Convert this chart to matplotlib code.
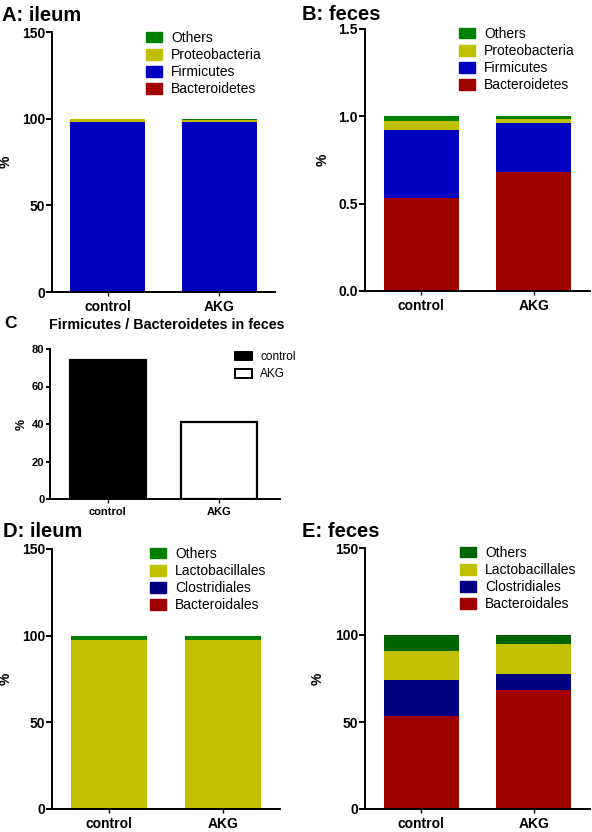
import matplotlib.pyplot as plt
from matplotlib.patches import Patch

plt.rcParams['font.family'] = ['Liberation Sans', 'DejaVu Sans']

groups = ['control', 'AKG']

# A: ileum, phylum (%)
phyla = ['Bacteroidetes', 'Firmicutes', 'Proteobacteria', 'Others']
ileum_phylum = {
    'Bacteroidetes': [0.2, 0.1],
    'Firmicutes': [97.8, 98.2],
    'Proteobacteria': [1.7, 0.7],
    'Others': [0.3, 1.0],
}
# B: feces, phylum (fraction)
feces_phylum = {
    'Bacteroidetes': [0.533, 0.682],
    'Firmicutes': [0.390, 0.281],
    'Proteobacteria': [0.053, 0.019],
    'Others': [0.024, 0.018],
}
# C: Firmicutes / Bacteroidetes ratio
fb_ratio = [74.0, 41.0]
# D: ileum, order (%)
orders = ['Bacteroidales', 'Clostridiales', 'Lactobacillales', 'Others']
ileum_order = {
    'Bacteroidales': [0.2, 0.2],
    'Clostridiales': [0.4, 0.4],
    'Lactobacillales': [97.1, 97.1],
    'Others': [2.3, 2.3],
}
# E: feces, order (%)
feces_order = {
    'Bacteroidales': [53.5, 68.4],
    'Clostridiales': [20.6, 9.2],
    'Lactobacillales': [16.7, 17.2],
    'Others': [9.2, 5.2],
}

phylum_colors = {'Bacteroidetes': '#a00000', 'Firmicutes': '#0000c0',
                 'Proteobacteria': '#c0c000', 'Others': '#008000'}
order_colors_d = {'Bacteroidales': '#a00000', 'Clostridiales': '#000080',
                  'Lactobacillales': '#c0c000', 'Others': '#008000'}
order_colors_e = {'Bacteroidales': '#a00000', 'Clostridiales': '#000080',
                  'Lactobacillales': '#c0c000', 'Others': '#006400'}

W, H = 592, 832
fig = plt.figure(figsize=(W / 100, H / 100), dpi=100)


def px_axes(left, top, right, bottom):
    return fig.add_axes([left / W, 1 - bottom / H, (right - left) / W, (bottom - top) / H])


def style(ax, fs=10):
    for s in ['top', 'right']:
        ax.spines[s].set_visible(False)
    for s in ['left', 'bottom']:
        ax.spines[s].set_linewidth(1.4)
    ax.tick_params(axis='y', direction='out', length=4, width=1.4, labelsize=fs, pad=1)
    ax.tick_params(axis='x', direction='out', length=3, width=1.0, labelsize=fs, pad=3)
    for lab in ax.get_xticklabels() + ax.get_yticklabels():
        lab.set_fontweight('bold')


def set_ylabel_px(ax, x_px, fs=10):
    pos = ax.get_position()
    ax.set_ylabel('%', fontsize=fs, fontweight='bold')
    ax.yaxis.set_label_coords((x_px / W - pos.x0) / pos.width, 0.5)


def stacked(ax, data, names, colors, ymax, yticks, legend_xy, ylabel_x):
    x = range(len(groups))
    bottom = [0] * len(groups)
    handles = []
    for n in names:
        ax.bar(x, data[n], bottom=bottom, width=0.67, color=colors[n], linewidth=0)
        bottom = [b + v for b, v in zip(bottom, data[n])]
        handles.append(Patch(color=colors[n], label=n))
    ax.set_xlim(-0.5, 1.5)
    ax.set_ylim(0, ymax)
    ax.set_yticks(yticks)
    ax.set_xticks(list(x))
    ax.set_xticklabels(groups)
    style(ax)
    ax.legend(handles=handles[::-1], loc='upper left', frameon=False,
              bbox_to_anchor=(legend_xy[0] / W, 1 - legend_xy[1] / H),
              bbox_transform=fig.transFigure, fontsize=10, handlelength=1.15,
              handleheight=0.8, handletextpad=0.65, labelspacing=0.22,
              borderpad=0, borderaxespad=0)
    set_ylabel_px(ax, ylabel_x + 5)


# A
axA = px_axes(52, 32, 275, 292)
stacked(axA, ileum_phylum, phyla, phylum_colors, 150, [0, 50, 100, 150], (146, 31), 8)
fig.text(2 / W, 1 - 21 / H, 'A: ileum', fontsize=14.5, fontweight='bold')

# B
axB = px_axes(365, 29, 590, 291)
stacked(axB, feces_phylum, phyla, phylum_colors, 1.5, [0.0, 0.5, 1.0, 1.5], (459, 27), 325)
axB.set_yticklabels(['0.0', '0.5', '1.0', '1.5'], fontweight='bold')
fig.text(302 / W, 1 - 20 / H, 'B: feces', fontsize=14.5, fontweight='bold')

# C
axC = px_axes(50, 349, 280, 499)
axC.bar(0, fb_ratio[0], width=0.68, color='black', edgecolor='black', linewidth=1.6)
axC.bar(1, fb_ratio[1], width=0.68, color='white', edgecolor='black', linewidth=1.6)
axC.set_xlim(-0.52, 1.55)
axC.set_ylim(0, 80)
axC.set_yticks([0, 20, 40, 60, 80])
axC.set_xticks([0, 1])
axC.set_xticklabels(groups)
style(axC, fs=8)
axC.tick_params(axis='y', length=3)
set_ylabel_px(axC, 28, fs=9)
axC.legend(handles=[Patch(facecolor='black', edgecolor='black', linewidth=1.4, label='control'),
                    Patch(facecolor='white', edgecolor='black', linewidth=1.4, label='AKG')],
           loc='upper left', frameon=False, bbox_to_anchor=(235 / W, 1 - 351 / H),
           bbox_transform=fig.transFigure, fontsize=8.5, handlelength=1.4,
           handleheight=0.75, handletextpad=0.75, labelspacing=0.45,
           borderpad=0, borderaxespad=0)
fig.text(4 / W, 1 - 328 / H, 'C', fontsize=12.5, fontweight='bold')
fig.text(167 / W, 1 - 329 / H, 'Firmicutes / Bacteroidetes in feces', fontsize=10.3,
         fontweight='bold', ha='center')

# D
axD = px_axes(52, 549, 280, 809)
stacked(axD, ileum_order, orders, order_colors_d, 150, [0, 50, 100, 150], (150, 547), 8)
fig.text(3 / W, 1 - 537 / H, 'D: ileum', fontsize=14.5, fontweight='bold')

# E
axE = px_axes(365, 548, 590, 809)
stacked(axE, feces_order, orders, order_colors_e, 150, [0, 50, 100, 150], (460, 546), 320)
fig.text(302 / W, 1 - 537 / H, 'E: feces', fontsize=14.5, fontweight='bold')

fig.savefig('out.png', dpi=100)
